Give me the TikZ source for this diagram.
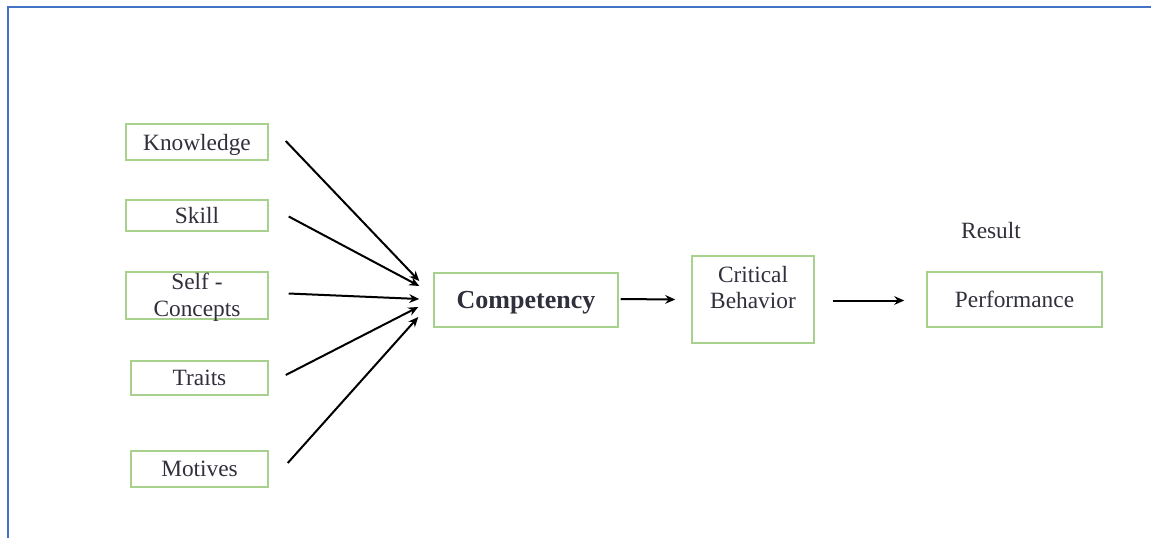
\documentclass[tikz,border=0pt]{standalone}
\usepackage{fontspec}
\setmainfont{Liberation Serif}
\usetikzlibrary{arrows.meta,calc}
\definecolor{boxgreen}{HTML}{A9D18E}
\definecolor{frameblue}{HTML}{4472C4}
\definecolor{txtgray}{HTML}{30303C}
\tikzset{
  box/.style={draw=boxgreen, line width=1.1pt, fill=white, inner sep=0pt, text=txtgray,
    font=\fontsize{17.5}{20}\selectfont, align=center, text depth=0pt},
  txt/.style={inner sep=0pt, text=txtgray, font=\fontsize{17.5}{20}\selectfont, align=center},
  arr/.style={line width=1.5pt, -{Stealth[length=7.5pt,width=6.5pt]}}
}
\begin{document}
\begin{tikzpicture}[x=0.75pt,y=-0.75pt]
\useasboundingbox (0,0) rectangle (1151,537);
\fill[white] (0,0) rectangle (1151,537);
\draw[frameblue, line width=1.6pt] (8,540) -- (8,7) -- (1155,7);

\node[box, minimum width=142*0.75pt, minimum height=36*0.75pt] (know) at (197,142) {Knowledge};
\node[box, minimum width=142*0.75pt, minimum height=31*0.75pt] (skill) at (197,215.5) {Skill};
\node[box, minimum width=142*0.75pt, minimum height=47*0.75pt] (self) at (197,295.5) {};
\node[txt] at ($(self.center)+(0,2)$) {Self -\\Concepts};
\node[box, minimum width=137*0.75pt, minimum height=34*0.75pt] (traits) at (199.5,378) {Traits};
\node[box, minimum width=137*0.75pt, minimum height=36*0.75pt] (motives) at (199.5,469) {Motives};

\node[box, minimum width=184*0.75pt, minimum height=54*0.75pt, font=\fontsize{19.5}{22}\selectfont\bfseries] (comp) at (526,300) {Competency};
\node[box, minimum width=122*0.75pt, minimum height=87*0.75pt] (crit) at (753,299.5) {};
\node[txt] at ($(crit.center)+(0,-12)$) {Critical\\Behavior};
\node[box, minimum width=175*0.75pt, minimum height=55*0.75pt] (perf) at (1014.5,299.5) {Performance};
\node[txt] (result) at (991,231) {Result};

\draw[arr] ($(know.east)+(17,-1)$) -- ($(comp.west)+(-14,-19)$);
\draw[arr] ($(skill.east)+(20,1)$) -- ($(comp.west)+(-14,-14)$);
\draw[arr] ($(self.east)+(20,-2)$) -- ($(comp.west)+(-14,-1)$);
\draw[arr] ($(traits.east)+(17,-3)$) -- ($(comp.west)+(-15,7)$);
\draw[arr] ($(motives.east)+(19,-6)$) -- ($(comp.west)+(-15,17)$);
\draw[arr] ($(comp.east)+(2,-1)$) -- ($(crit.west)+(-16,0)$);
\draw[arr] ($(crit.east)+(18,1)$) -- ($(perf.west)+(-22,1)$);
\end{tikzpicture}
\end{document}
